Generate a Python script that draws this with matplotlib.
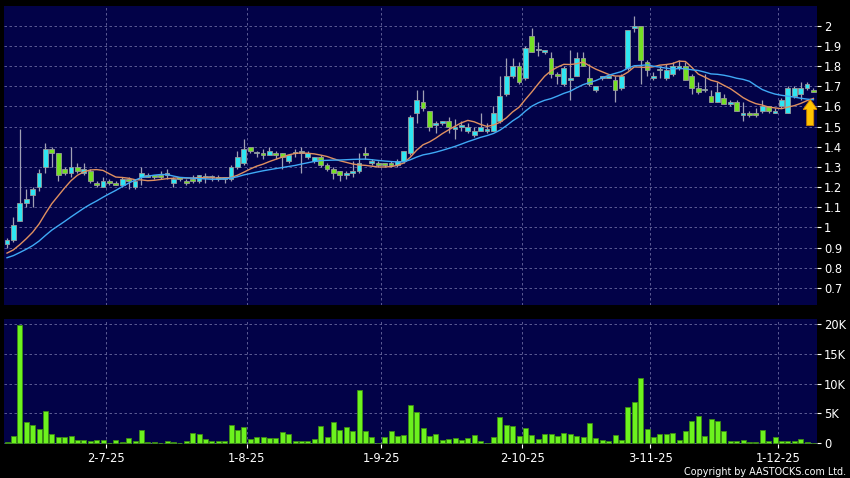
import numpy as np
import pandas as pd
import matplotlib
matplotlib.use("Agg")
import matplotlib.pyplot as plt

# HK trading days shown on the chart (9 Jun - 8 Dec 2025)
hk_holidays = ["2025-07-01", "2025-10-01", "2025-10-07", "2025-10-29"]
dates = pd.bdate_range("2025-06-09", "2025-12-08", freq="C", holidays=hk_holidays)

open_ = [
    0.92, 0.94, 1.03, 1.12, 1.16, 1.20, 1.30, 1.39, 1.37, 1.29,
    1.27, 1.30, 1.27, 1.28, 1.22, 1.20, 1.23, 1.22, 1.21, 1.24,
    1.20, 1.25, 1.26, 1.26, 1.26, 1.26, 1.22, 1.25, 1.23, 1.24,
    1.23, 1.25, 1.25, 1.25, 1.24, 1.24, 1.30, 1.32, 1.40, 1.37,
    1.37, 1.36, 1.37, 1.37, 1.33, 1.37, 1.37, 1.35, 1.33, 1.35,
    1.31, 1.29, 1.28, 1.26, 1.27, 1.28, 1.37, 1.32, 1.32, 1.32,
    1.32, 1.31, 1.33, 1.37, 1.57, 1.62, 1.58, 1.51, 1.52, 1.53,
    1.49, 1.50, 1.48, 1.46, 1.48, 1.48, 1.48, 1.53, 1.66, 1.75,
    1.80, 1.74, 1.95, 1.88, 1.87, 1.84, 1.76, 1.71, 1.73, 1.75,
    1.84, 1.74, 1.68, 1.74, 1.74, 1.73, 1.69, 1.79, 1.99, 2.00,
    1.82, 1.74, 1.78, 1.74, 1.76, 1.79, 1.80, 1.75, 1.69, 1.68,
    1.65, 1.62, 1.64, 1.61, 1.62, 1.56, 1.57, 1.57, 1.58, 1.60,
    1.57, 1.60, 1.57, 1.65, 1.66, 1.69, 1.68]
high = [
    0.95, 1.05, 1.49, 1.19, 1.20, 1.29, 1.42, 1.40, 1.37, 1.30,
    1.40, 1.32, 1.32, 1.29, 1.23, 1.25, 1.24, 1.23, 1.25, 1.25,
    1.24, 1.30, 1.27, 1.26, 1.28, 1.29, 1.25, 1.25, 1.24, 1.26,
    1.26, 1.27, 1.26, 1.26, 1.25, 1.31, 1.38, 1.44, 1.40, 1.38,
    1.39, 1.40, 1.38, 1.37, 1.36, 1.39, 1.40, 1.38, 1.35, 1.36,
    1.32, 1.30, 1.28, 1.28, 1.33, 1.37, 1.40, 1.34, 1.33, 1.32,
    1.33, 1.34, 1.38, 1.56, 1.68, 1.68, 1.58, 1.53, 1.53, 1.55,
    1.54, 1.53, 1.52, 1.50, 1.57, 1.52, 1.60, 1.75, 1.84, 1.84,
    1.82, 1.90, 1.99, 1.92, 1.88, 1.87, 1.77, 1.80, 1.88, 1.87,
    1.87, 1.81, 1.70, 1.75, 1.75, 1.75, 1.76, 1.98, 2.05, 2.00,
    1.83, 1.77, 1.80, 1.81, 1.82, 1.83, 1.82, 1.76, 1.72, 1.76,
    1.68, 1.72, 1.66, 1.63, 1.63, 1.62, 1.58, 1.59, 1.63, 1.60,
    1.59, 1.64, 1.70, 1.70, 1.72, 1.72, 1.69]
low = [
    0.90, 0.93, 1.03, 1.10, 1.10, 1.18, 1.27, 1.30, 1.23, 1.26,
    1.25, 1.27, 1.26, 1.22, 1.20, 1.20, 1.21, 1.21, 1.20, 1.19,
    1.19, 1.21, 1.25, 1.24, 1.24, 1.24, 1.20, 1.23, 1.21, 1.22,
    1.22, 1.22, 1.23, 1.23, 1.22, 1.23, 1.29, 1.31, 1.37, 1.35,
    1.34, 1.36, 1.34, 1.29, 1.32, 1.35, 1.27, 1.34, 1.32, 1.30,
    1.28, 1.24, 1.23, 1.24, 1.25, 1.27, 1.34, 1.31, 1.30, 1.30,
    1.30, 1.30, 1.32, 1.36, 1.52, 1.58, 1.48, 1.47, 1.51, 1.47,
    1.44, 1.48, 1.47, 1.45, 1.48, 1.47, 1.48, 1.52, 1.65, 1.74,
    1.71, 1.73, 1.87, 1.85, 1.86, 1.74, 1.71, 1.70, 1.63, 1.75,
    1.80, 1.70, 1.67, 1.73, 1.74, 1.62, 1.68, 1.78, 1.97, 1.71,
    1.75, 1.73, 1.74, 1.73, 1.75, 1.78, 1.73, 1.66, 1.66, 1.67,
    1.62, 1.62, 1.61, 1.60, 1.58, 1.53, 1.55, 1.55, 1.57, 1.57,
    1.57, 1.59, 1.57, 1.64, 1.63, 1.68, 1.67]
close = [
    0.94, 1.01, 1.12, 1.14, 1.19, 1.27, 1.39, 1.37, 1.26, 1.27,
    1.30, 1.28, 1.29, 1.23, 1.21, 1.23, 1.22, 1.21, 1.24, 1.23,
    1.23, 1.27, 1.25, 1.25, 1.25, 1.27, 1.24, 1.24, 1.22, 1.23,
    1.26, 1.25, 1.25, 1.24, 1.25, 1.30, 1.35, 1.39, 1.38, 1.37,
    1.36, 1.38, 1.36, 1.35, 1.36, 1.37, 1.38, 1.37, 1.35, 1.31,
    1.29, 1.27, 1.26, 1.27, 1.28, 1.32, 1.36, 1.33, 1.31, 1.31,
    1.31, 1.33, 1.38, 1.55, 1.63, 1.59, 1.50, 1.52, 1.53, 1.50,
    1.49, 1.50, 1.50, 1.48, 1.50, 1.49, 1.57, 1.65, 1.75, 1.80,
    1.72, 1.89, 1.87, 1.88, 1.88, 1.76, 1.75, 1.79, 1.74, 1.84,
    1.80, 1.71, 1.70, 1.75, 1.75, 1.68, 1.75, 1.98, 2.00, 1.83,
    1.78, 1.75, 1.78, 1.78, 1.80, 1.80, 1.73, 1.69, 1.67, 1.68,
    1.62, 1.67, 1.61, 1.62, 1.58, 1.57, 1.56, 1.56, 1.60, 1.58,
    1.58, 1.63, 1.69, 1.69, 1.69, 1.71, 1.67]
# volume in thousands of shares
volume_k = [
    0.2, 1.2, 19.9, 3.6, 3.0, 2.4, 5.4, 1.5, 1.1, 1.0,
    1.3, 0.6, 0.6, 0.35, 0.6, 0.6, 0.05, 0.5, 0.17, 0.9,
    0.4, 2.2, 0.2, 0.15, 0.0, 0.4, 0.2, 0.05, 0.45, 1.7,
    1.5, 0.7, 0.45, 0.45, 0.45, 3.0, 2.2, 2.7, 0.8, 1.1,
    1.1, 0.85, 0.9, 1.85, 1.6, 0.4, 0.45, 0.3, 0.7, 2.85,
    1.1, 3.5, 2.2, 2.75, 2.0, 9.0, 2.1, 1.1, 0.1, 1.05,
    2.0, 1.2, 1.4, 6.4, 5.2, 2.5, 1.2, 1.55, 0.55, 0.8,
    0.95, 0.55, 0.9, 1.4, 0.35, 0.1, 1.05, 4.35, 3.1, 2.9,
    1.3, 2.6, 1.4, 0.7, 1.5, 1.55, 1.3, 1.7, 1.55, 1.3,
    1.05, 3.4, 0.95, 0.5, 0.45, 1.45, 0.55, 6.05, 6.85, 10.9,
    2.4, 1.1, 1.6, 1.55, 1.7, 0.6, 2.0, 3.8, 4.6, 1.2,
    4.0, 3.75, 2.1, 0.4, 0.35, 0.6, 0.15, 0.15, 2.25, 0.3,
    1.0, 0.35, 0.4, 0.45, 0.7, 0.15, 0.05]
# closes before the window, estimated from where the MA lines start
pre_close = [0.80, 0.81, 0.82, 0.83, 0.82, 0.83, 0.84, 0.83, 0.84, 0.85,
             0.85, 0.86, 0.85, 0.87, 0.86, 0.87, 0.88, 0.87, 0.88]

price_ticks = [0.7, 0.8, 0.9, 1.0, 1.1, 1.2, 1.3, 1.4, 1.5, 1.6, 1.7, 1.8, 1.9, 2.0]
vol_ticks = [0, 5, 10, 15, 20]
vol_labels = ["0", "5K", "10K", "15K", "20K"]

o = np.array(open_)
h = np.array(high)
l = np.array(low)
c = np.array(close)
x = np.arange(len(dates))

closes_all = pd.Series(pre_close + close)
ma10 = closes_all.rolling(10).mean().to_numpy()[len(pre_close):]
ma20 = closes_all.rolling(20).mean().to_numpy()[len(pre_close):]

# first trading day of each month -> gridline just left of that bar
new_month = np.flatnonzero(dates.month[1:] != dates.month[:-1]) + 1
month_pos = new_month - 0.5
month_labels = [f"{d.day}-{d.month}-{d:%y}" for d in dates[new_month]]

bg = "#020248"
grid_col = "#6a6aa0"
cyan = "#2ee6f2"
green = "#74e024"
lime = "#6cf21e"

fig = plt.figure(figsize=(8.5, 4.78), dpi=100, facecolor="black")
ax = fig.add_axes([4 / 850, 173 / 478, 813 / 850, 299.5 / 478])
axv = fig.add_axes([4 / 850, 34 / 478, 813 / 850, 124.7 / 478], sharex=ax)

for a in (ax, axv):
    a.set_facecolor(bg)
    for s in a.spines.values():
        s.set_visible(False)
    a.grid(True, color=grid_col, ls=(0, (3, 3)), lw=0.6)
    a.set_axisbelow(True)
    a.yaxis.tick_right()
    a.tick_params(axis="y", colors="white", labelsize=8.3, length=3,
                  width=0.8, pad=2)

# candles
up = c >= o
body_lo = np.minimum(o, c)
body_h = np.maximum(np.abs(c - o), 0.006)
ax.vlines(x, l, h, color="#a0a0b4", lw=0.9, zorder=2)
ax.bar(x[up], body_h[up], bottom=body_lo[up], width=0.74, color=cyan,
       edgecolor="#9a9a9a", lw=0.6, zorder=3)
ax.bar(x[~up], body_h[~up], bottom=body_lo[~up], width=0.74, color=green,
       edgecolor="#9a9a9a", lw=0.6, zorder=3)

ax.plot(x, ma10, color="#e09060", lw=1.0, zorder=4)
ax.plot(x, ma20, color="#3fa9f5", lw=1.0, zorder=4)

# marker arrow at the latest bar
ax.arrow(x[-1] - 0.5, ma10[-1] - 0.135, 0, 0.13, width=1.1, head_width=2.2,
         head_length=0.05, length_includes_head=True, fc="#ffc400",
         ec="#d08000", lw=0.6, zorder=5)

ax.set_ylim(0.6156, 2.1007)
ax.set_yticks(price_ticks)
ax.set_yticklabels([f"{t:g}" for t in price_ticks])
ax.set_xticks(month_pos)
ax.tick_params(axis="x", length=0, labelbottom=False)

axv.bar(x, volume_k, width=0.78, color=lime, edgecolor="#3c8c14", lw=0.6)
axv.set_ylim(-0.12, 20.8)
axv.set_yticks(vol_ticks)
axv.set_yticklabels(vol_labels)
axv.set_xticks(month_pos)
axv.set_xticklabels(month_labels)
axv.tick_params(axis="x", colors="white", labelsize=8.3, length=3,
                width=0.8, pad=2.5)
axv.set_xlim(-0.47, 126.56)

fig.text(846 / 850, 1 - 471.7 / 478, "Copyright by AASTOCKS.com Ltd.",
         ha="right", va="center", fontsize=6.9, color="white")

fig.savefig("out.png", dpi=100, facecolor="black")
